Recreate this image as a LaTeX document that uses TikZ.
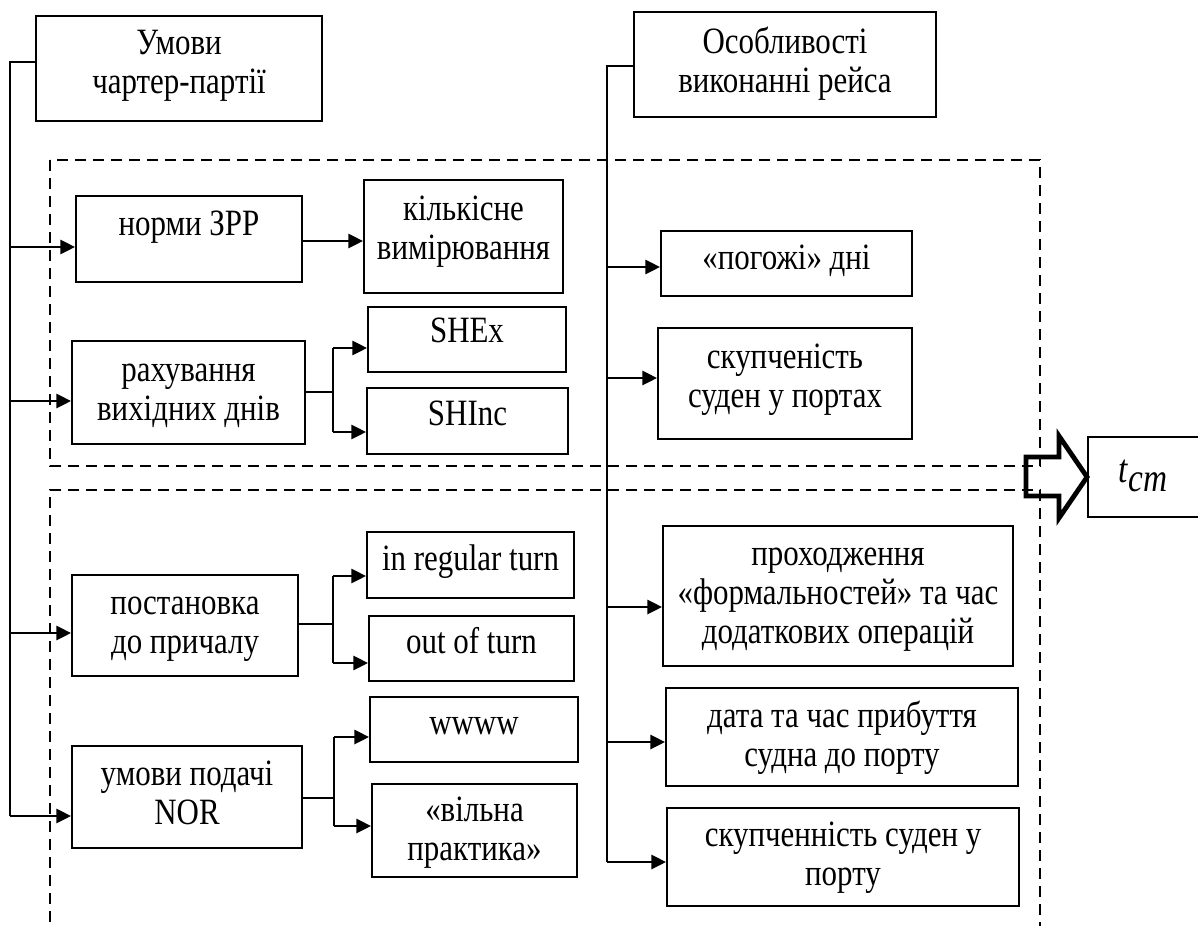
\documentclass[tikz,border=0pt]{standalone}
\usepackage{fontspec}
\usepackage{graphicx}
\setmainfont{Liberation Serif}
\usetikzlibrary{arrows.meta,fit}
\newcommand\vtxt[1]{\scalebox{1}[1.2]{\begin{tabular}{@{}c@{}}#1\end{tabular}}}
\begin{document}
\begin{tikzpicture}[x=0.75pt,y=-0.75pt,
  box/.style={draw, line width=1.4pt, inner sep=0pt, fit={#1}},
  txt/.style={inner sep=0pt, font=\fontsize{23.2}{24.4}\selectfont},
  arr/.style={line width=2.1pt, -{Triangle[length=11pt,width=10.5pt]}},
  ln/.style={line width=1.3pt},
  bus/.style={line width=1.6pt},
  dsh/.style={line width=1.3pt, dash pattern=on 8.5pt off 5pt},
  bigarr/.style={line width=3.6pt, line join=miter}]
\useasboundingbox (0,0) rectangle (1198,925);
\clip (0,0) rectangle (1198,925);

% dashed groups
\draw[dsh] (50,160) rectangle (1040,466);
\draw[dsh] (50,940) -- (50,490) -- (1040,490) -- (1040,940);

% boxes
\node[box={(36,16) (322,121)}] (um) {};
\node[box={(634,12) (936,117)}] (os) {};
\node[box={(76,196) (302,282)}] (nz) {};
\node[box={(364,180) (563,293)}] (kv) {};
\node[box={(72,341) (305,444)}] (rv) {};
\node[box={(368,307) (566,372)}] (she) {};
\node[box={(367,388) (568,454)}] (shi) {};
\node[box={(661,231) (912,296)}] (pd) {};
\node[box={(658,328) (912,439)}] (sp) {};
\node[box={(72,575) (298,676)}] (pc) {};
\node[box={(367,532) (574,598)}] (irt) {};
\node[box={(369,616) (574,681)}] (oot) {};
\node[box={(72,746) (302,848)}] (nor) {};
\node[box={(370,697) (578,762)}] (ww) {};
\node[box={(372,784) (577,877)}] (vp) {};
\node[box={(663,526) (1013,666)}] (pf) {};
\node[box={(666,688) (1018,786)}] (dt) {};
\node[box={(667,808) (1019,906)}] (sk) {};
\node[box={(1088,437) (1212,517)}] (tcm) {};

% texts
\node[txt] (um-t) at (179,66) {\vtxt{Умови\\чартер-партії}};
\node[txt] (os-t) at (785,65.5) {\vtxt{Особливості\\виконанні рейса}};
\node[txt] (nz-t) at (189,228) {\vtxt{норми ЗРР}};
\node[txt] (kv-t) at (463.5,232) {\vtxt{кількісне\\вимірювання}};
\node[txt] (rv-t) at (188.5,393) {\vtxt{рахування\\вихідних днів}};
\node[txt] (she-t) at (467,335) {\vtxt{SHEx}};
\node[txt] (shi-t) at (467.5,418) {\vtxt{SHInc}};
\node[txt] (pd-t) at (786.5,262) {\vtxt{«погожі» дні}};
\node[txt] (sp-t) at (785,380) {\vtxt{скупченість\\суден у портах}};
\node[txt] (pc-t) at (185,626) {\vtxt{постановка\\до причалу}};
\node[txt] (irt-t) at (470.5,563) {\vtxt{in regular turn}};
\node[txt] (oot-t) at (471.5,646) {\vtxt{out of turn}};
\node[txt] (nor-t) at (187,797) {\vtxt{умови подачі\\NOR}};
\node[txt] (ww-t) at (474,727) {\vtxt{wwww}};
\node[txt] (vp-t) at (474.5,833) {\vtxt{«вільна\\практика»}};
\node[txt] (pf-t) at (838,597) {\vtxt{проходження\\«формальностей» та час\\додаткових операцій}};
\node[txt] (dt-t) at (842,739) {\vtxt{дата та час прибуття\\судна до порту}};
\node[txt] (sk-t) at (843,858) {\vtxt{скупченність суден у\\порту}};
\node[inner sep=0pt, font=\fontsize{25}{30}\selectfont\itshape] (tcm-t) at (1143,476) {\scalebox{1}[1.2]{t\raisebox{-6pt}{cm}}};

% left bus
\coordinate (lt) at (10,62);
\coordinate (lb) at (10,816);
\draw[bus] (lt -| um.west) -- (lt) -- (lb);
\coordinate (l1) at (10,247);
\coordinate (l2) at (10,401);
\coordinate (l3) at (10,633);
\draw[arr] (l1) -- (l1 -| nz.west);
\draw[arr] (l2) -- (l2 -| rv.west);
\draw[arr] (l3) -- (l3 -| pc.west);
\draw[arr] (lb) -- (lb -| nor.west);

% right bus
\coordinate (rt) at (607,66);
\coordinate (rb) at (607,862);
\draw[bus] (rt -| os.west) -- (rt) -- (rb);
\coordinate (r1) at (607,267);
\coordinate (r2) at (607,378);
\coordinate (r3) at (607,607);
\coordinate (r4) at (607,742);
\draw[arr] (r1) -- (r1 -| pd.west);
\draw[arr] (r2) -- (r2 -| sp.west);
\draw[arr] (r3) -- (r3 -| pf.west);
\draw[arr] (r4) -- (r4 -| dt.west);
\draw[arr] (rb) -- (rb -| sk.west);

% norms -> quantity
\coordinate (n1) at (302,241);
\draw[arr] (n1 -| nz.east) -- (n1 -| kv.west);

% bracket 1
\coordinate (b1) at (333,392);
\coordinate (b1a) at (333,348);
\coordinate (b1b) at (333,432);
\draw[ln] (b1 -| rv.east) -- (b1);
\draw[ln] (b1a) -- (b1b);
\draw[arr] (b1a) -- (b1a -| she.west);
\draw[arr] (b1b) -- (b1b -| shi.west);

% bracket 2
\coordinate (b2) at (333,624);
\coordinate (b2a) at (333,576);
\coordinate (b2b) at (333,663);
\draw[ln] (b2 -| pc.east) -- (b2);
\draw[ln] (b2a) -- (b2b);
\draw[arr] (b2a) -- (b2a -| irt.west);
\draw[arr] (b2b) -- (b2b -| oot.west);

% bracket 3
\coordinate (b3) at (334,798);
\coordinate (b3a) at (334,737);
\coordinate (b3b) at (334,826);
\draw[ln] (b3 -| nor.east) -- (b3);
\draw[ln] (b3a) -- (b3b);
\draw[arr] (b3a) -- (b3a -| ww.west);
\draw[arr] (b3b) -- (b3b -| vp.west);

% big hollow arrow to t_cm
\draw[bigarr] (1026,457) -- (1059,457) -- (1059,436) -- (tcm.west) -- (1059,518) -- (1059,496) -- (1026,496) -- cycle;
\end{tikzpicture}
\end{document}
